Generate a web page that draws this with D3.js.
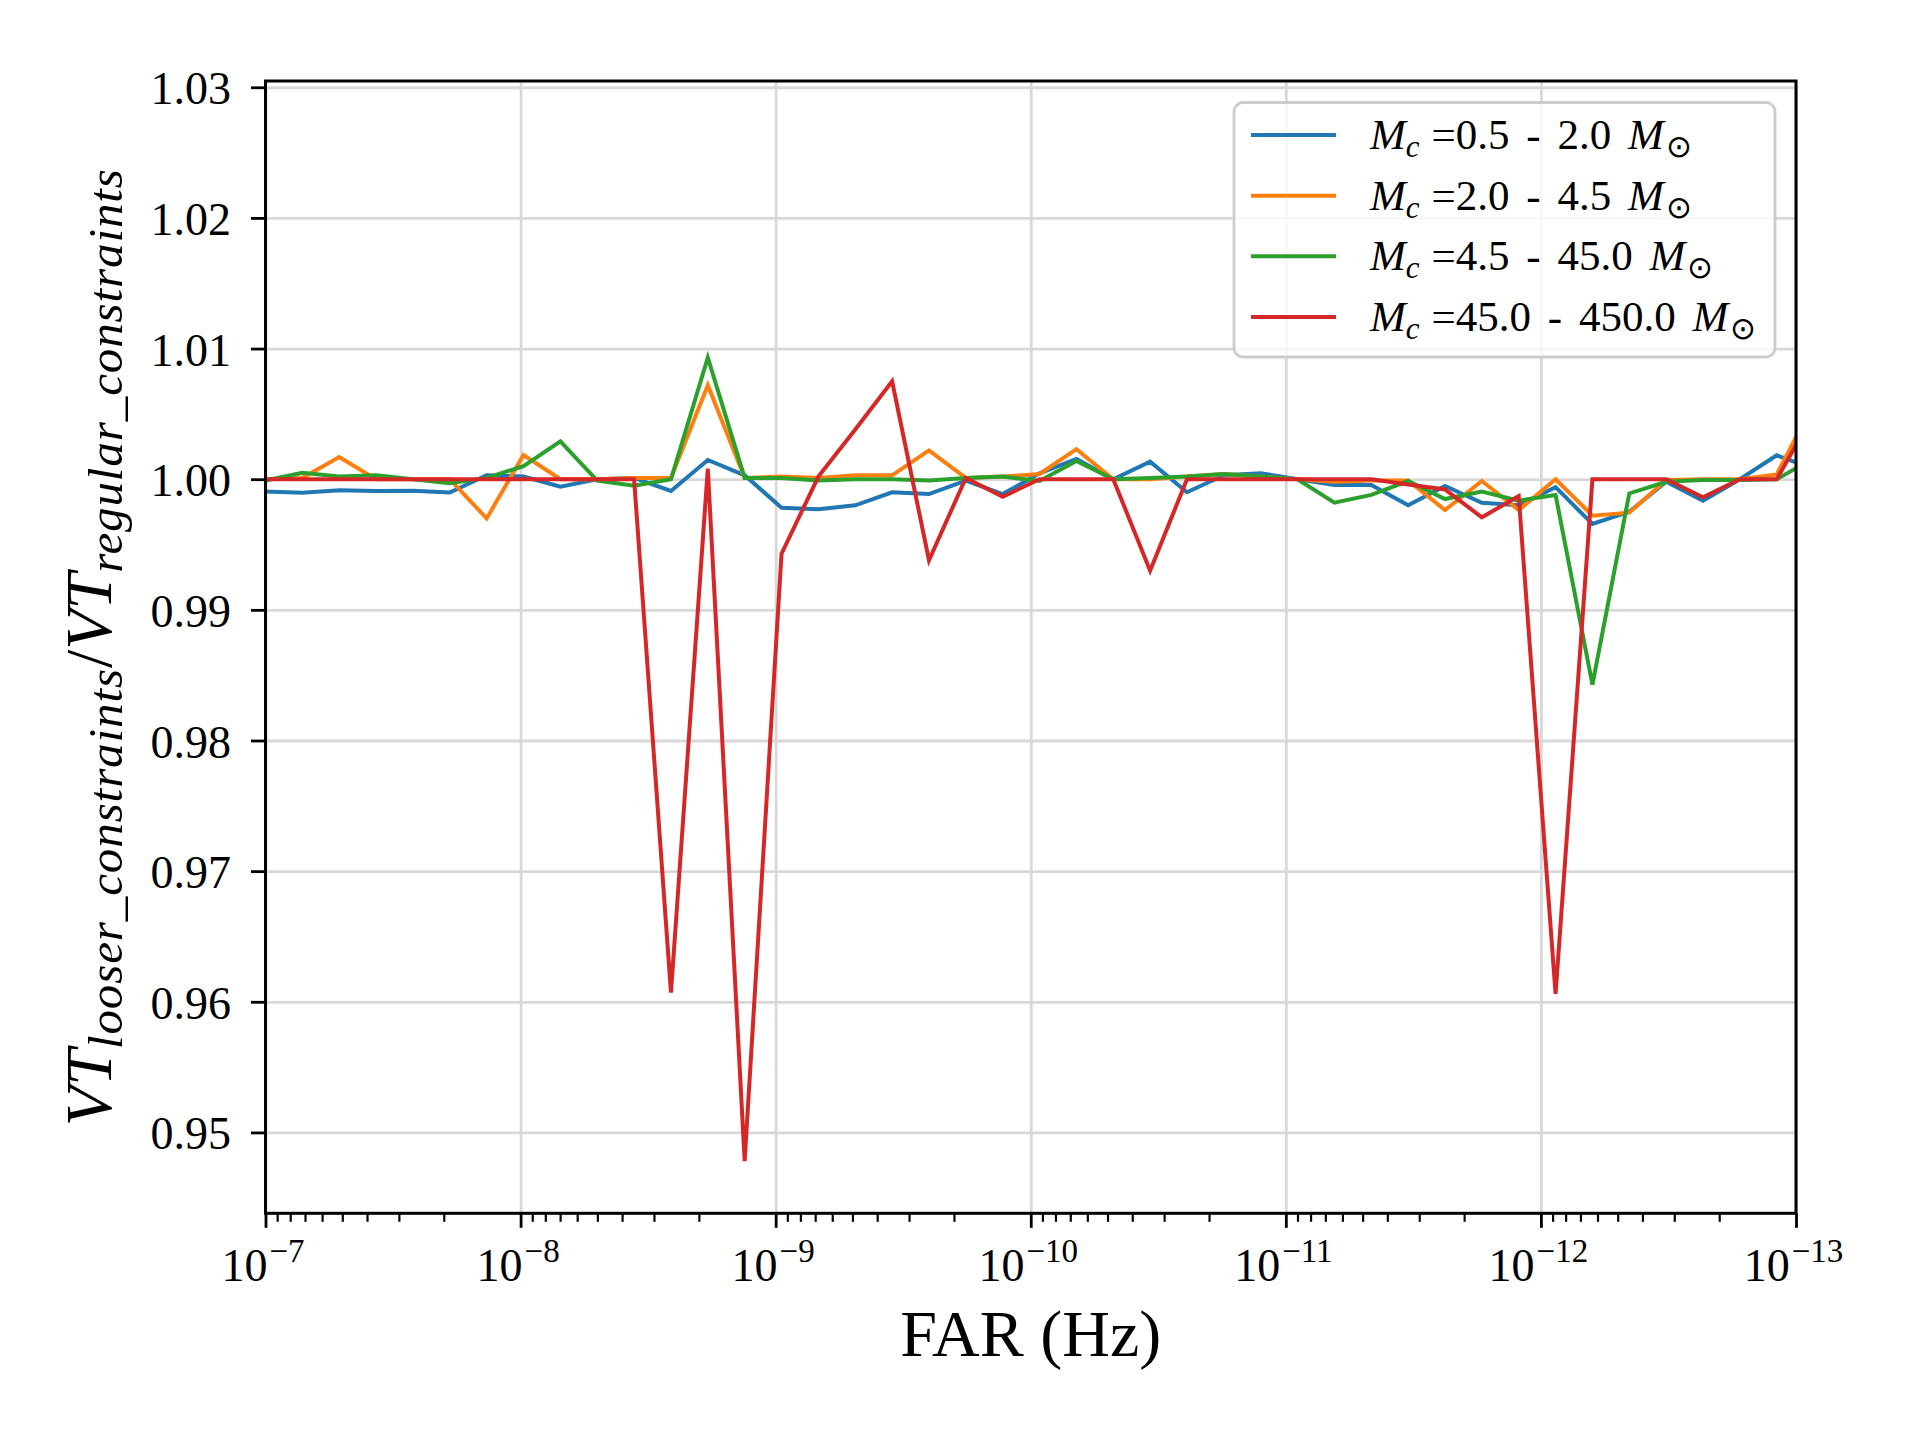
<!DOCTYPE html>
<html>
<head>
<meta charset="utf-8">
<script src="https://cdn.jsdelivr.net/npm/d3@7"></script>
<style>
  body { margin: 0; background: #fff; }
  svg { font-family: "Liberation Serif", "DejaVu Serif", serif; }
</style>
</head>
<body>
<svg id="chart" width="1920" height="1440"></svg>
<script>
"use strict";

// FAR thresholds (Hz), one per point
const farValues = [1.000e-7, 7.172e-8, 5.140e-8, 3.686e-8, 2.642e-8, 1.895e-8, 1.358e-8,
	9.739e-9, 6.982e-9, 5.006e-9, 3.589e-9, 2.573e-9, 1.845e-9, 1.323e-9,
	9.484e-10, 6.800e-10, 4.875e-10, 3.495e-10, 2.506e-10, 1.797e-10, 1.288e-10,
	9.237e-11, 6.622e-11, 4.748e-11, 3.404e-11, 2.441e-11, 1.750e-11, 1.254e-11,
	8.995e-12, 6.449e-12, 4.624e-12, 3.315e-12, 2.377e-12, 1.704e-12, 1.222e-12,
	8.760e-13, 6.281e-13, 4.503e-13, 3.228e-13, 2.315e-13, 1.660e-13, 1.190e-13, 8.531e-14];

// VT ratio per chirp mass bin
const ratioLow = [0.99905, 0.99897, 0.99915, 0.9991, 0.99912, 0.99898, 1.0003, 1.0002, 0.99943, 1.0000,
	1.0001, 0.9991, 1.00147, 1.0003, 0.99782, 0.9977, 0.9980, 0.9990, 0.99886, 0.9999,
	0.99886, 1.00045, 1.00155, 1.0000, 1.00134, 0.9990, 1.0003, 1.00045, 1.0000, 0.99956,
	0.99956, 0.9980, 0.99948, 0.9982, 0.9980, 0.99939, 0.99657, 0.99751, 0.9998, 0.99836,
	1.0000, 1.00183, 1.0008];
const ratioMid = [1.0000, 1.0001, 1.0017, 1.0000, 1.0000, 1.0000, 0.9970, 1.00185, 1.0000, 1.0000,
	1.0001, 1.0001, 1.0072, 1.0001, 1.0002, 1.0001, 1.0003, 1.0003, 1.0022, 1.0001,
	1.0002, 1.0004, 1.0023, 1.0000, 1.0000, 1.0002, 1.0004, 1.0002, 1.0000, 0.9998,
	0.9999, 0.9999, 0.99764, 0.99986, 0.99764, 1.0000, 0.99721, 0.99744, 0.99994, 1.0000,
	1.0000, 1.00037, 1.0058];
const ratioHigh = [0.9999, 1.0005, 1.0002, 1.0003, 1.0000, 0.9997, 1.0001, 1.0010, 1.0029, 0.9999,
	0.9995, 1.0000, 1.0093, 1.0001, 1.0001, 0.9999, 1.0000, 1.0000, 0.9999, 1.0001,
	1.0002, 0.99986, 1.0014, 1.0000, 1.0001, 1.0002, 1.0004, 1.0002, 1.0000, 0.9982,
	0.9988, 0.99986, 0.99848, 0.99905, 0.99836, 0.99879, 0.98427, 0.99891, 0.9998, 0.99994,
	0.99994, 1.0000, 1.0016];
const ratioHeavy = [1.0000, 1.0000, 1.0000, 1.0000, 1.0000, 1.0000, 1.0000, 1.0000, 1.0000, 1.0000,
	1.0000, 0.9607, 1.0008, 0.9478, 0.9943, 1.0002, 1.0038, 1.0075, 0.9938, 1.0001,
	0.99866, 1.0000, 1.0000, 1.0000, 0.9930, 1.0000, 1.0000, 1.0000, 1.0000, 1.0000,
	1.0000, 0.9996, 0.99922, 0.99708, 0.99871, 0.9606, 1.0000, 1.0000, 1.0000, 0.99861,
	1.0000, 1.0000, 1.0050];

const seriesNames = ["0.5 - 2.0", "2.0 - 4.5", "4.5 - 45.0", "45.0 - 450.0"];
const seriesColors = ["#1f77b4", "#ff7f0e", "#2ca02c", "#d62728"];

const yTicks = [0.95, 0.96, 0.97, 0.98, 0.99, 1.00, 1.01, 1.02, 1.03];
const xTicks = [1e-7, 1e-8, 1e-9, 1e-10, 1e-11, 1e-12, 1e-13];
const xTickExps = ["\u22127", "\u22128", "\u22129", "\u221210", "\u221211", "\u221212", "\u221213"];

// layout of the axes box
const plotL = 265.5, plotR = 1796, plotT = 81, plotB = 1213.3;

const svg = d3.select("#chart");

const x = d3.scaleLog().domain([1e-7, 1e-13]).range([plotL, plotR]);
const y = d3.scaleLinear().domain([0.94381, 1.03048]).range([plotB, plotT]);

svg.append("rect").attr("width", 1920).attr("height", 1440).attr("fill", "#fff");

// grid
svg.append("g")
	.attr("transform", `translate(${plotL},0)`)
	.call(d3.axisLeft(y).tickValues(yTicks).tickSize(-(plotR - plotL)).tickFormat(""))
	.call(g => g.select(".domain").remove())
	.call(g => g.selectAll("line").attr("stroke", "#d8d8d8").attr("stroke-width", 2.8));
svg.append("g")
	.attr("transform", `translate(0,${plotB})`)
	.call(d3.axisBottom(x).tickValues(xTicks).tickSize(-(plotB - plotT)).tickFormat(""))
	.call(g => g.select(".domain").remove())
	.call(g => g.selectAll("line").attr("stroke", "#d8d8d8").attr("stroke-width", 2.8));

// lines
svg.append("clipPath").attr("id", "plotclip")
	.append("rect")
	.attr("x", plotL).attr("y", plotT)
	.attr("width", plotR - plotL).attr("height", plotB - plotT);

const line = d3.line()
	.x((d, i) => x(farValues[i]))
	.y(d => y(d));

const allSeries = [ratioLow, ratioMid, ratioHigh, ratioHeavy];
svg.append("g")
	.attr("clip-path", "url(#plotclip)")
	.selectAll("path")
	.data(allSeries)
	.join("path")
	.attr("d", line)
	.attr("fill", "none")
	.attr("stroke", (d, i) => seriesColors[i])
	.attr("stroke-width", 4)
	.attr("stroke-linejoin", "miter")
	.attr("stroke-linecap", "square");

// frame
svg.append("rect")
	.attr("x", plotL).attr("y", plotT)
	.attr("width", plotR - plotL).attr("height", plotB - plotT)
	.attr("fill", "none").attr("stroke", "#000").attr("stroke-width", 3);

// y axis
svg.append("g")
	.attr("transform", `translate(${plotL},0)`)
	.call(d3.axisLeft(y).tickValues(yTicks).tickSize(14.5).tickPadding(20).tickFormat(d3.format(".2f")))
	.call(g => g.select(".domain").remove())
	.call(g => g.selectAll("line").attr("stroke", "#000").attr("stroke-width", 2.8))
	.call(g => g.selectAll("text")
		.attr("font-family", "Liberation Serif")
		.attr("font-size", 46)
		.attr("fill", "#000")
		.attr("dy", "0.36em"));

// x axis: minor ticks
const minorTicks = [];
for (let e = -8; e >= -13; e--) {
	for (let m = 2; m <= 9; m++) minorTicks.push(m * Math.pow(10, e));
}
svg.append("g")
	.attr("transform", `translate(0,${plotB})`)
	.call(d3.axisBottom(x).tickValues(minorTicks).tickSize(8.5).tickFormat(""))
	.call(g => g.select(".domain").remove())
	.call(g => g.selectAll("line").attr("stroke", "#000").attr("stroke-width", 2.2));

// x axis: major ticks with 10^n labels
const xAxis = svg.append("g")
	.attr("transform", `translate(0,${plotB})`)
	.call(d3.axisBottom(x).tickValues(xTicks).tickSize(14.5).tickFormat(""))
	.call(g => g.select(".domain").remove())
	.call(g => g.selectAll("line").attr("stroke", "#000").attr("stroke-width", 2.8));

xAxis.selectAll(".tick").each(function(d, i) {
	const t = d3.select(this).append("text")
		.attr("y", 68)
		.attr("x", -3)
		.attr("text-anchor", "middle")
		.attr("fill", "#000")
		.attr("font-family", "Liberation Serif")
		.attr("font-size", 46);
	t.append("tspan").text("10");
	t.append("tspan")
		.attr("font-size", 33)
		.attr("dy", -19)
		.attr("dx", 2)
		.text(xTickExps[i]);
});

// axis titles
svg.append("text")
	.attr("x", (plotL + plotR) / 2)
	.attr("y", 1356)
	.attr("text-anchor", "middle")
	.attr("font-family", "Liberation Serif")
	.attr("font-size", 66)
	.attr("fill", "#000")
	.text("FAR (Hz)");

const ylab = svg.append("text")
	.attr("transform", `translate(111,${(plotT + plotB) / 2}) rotate(-90)`)
	.attr("text-anchor", "middle")
	.attr("font-family", "Liberation Serif")
	.attr("font-style", "italic")
	.attr("fill", "#000");
ylab.append("tspan").attr("font-size", 66).text("VT");
ylab.append("tspan").attr("font-size", 49).attr("dy", 11).attr("letter-spacing", 0.9).text("looser_constraints");
ylab.append("tspan").attr("font-size", 66).attr("dy", -11).attr("font-style", "normal").text("/");
ylab.append("tspan").attr("font-size", 66).text("VT");
ylab.append("tspan").attr("font-size", 49).attr("dy", 11).attr("letter-spacing", 0.9).text("regular_constraints");

// legend
const legend = svg.append("g");
legend.append("rect")
	.attr("x", 1234).attr("y", 102.5)
	.attr("width", 541).attr("height", 254.5)
	.attr("rx", 9).attr("ry", 9)
	.attr("fill", "#fff").attr("fill-opacity", 0.8)
	.attr("stroke", "#cccccc").attr("stroke-width", 2.8);

const rowY = d3.scaleLinear().domain([0, 3]).range([135, 317]);
const rows = legend.selectAll(".row")
	.data(seriesNames)
	.join("g")
	.attr("class", "row")
	.attr("transform", (d, i) => `translate(0,${rowY(i)})`);
rows.append("line")
	.attr("x1", 1251).attr("x2", 1336)
	.attr("stroke", (d, i) => seriesColors[i])
	.attr("stroke-width", 4);
rows.each(function(d) {
	const t = d3.select(this).append("text")
		.attr("x", 1370)
		.attr("y", 14)
		.attr("font-family", "Liberation Serif")
		.attr("font-size", 43)
		.attr("fill", "#000")
		.attr("word-spacing", 6);
	t.append("tspan").attr("font-style", "italic").text("M");
	t.append("tspan").attr("font-style", "italic").attr("font-size", 31).attr("dy", 8).text("c");
	t.append("tspan").attr("dy", -8).attr("dx", 12).text("=" + d + " ");
	t.append("tspan").attr("font-style", "italic").text("M");
	t.append("tspan").attr("font-size", 31).attr("dy", 8).attr("dx", 2).text("\u2299");
});
</script>
</body>
</html>
